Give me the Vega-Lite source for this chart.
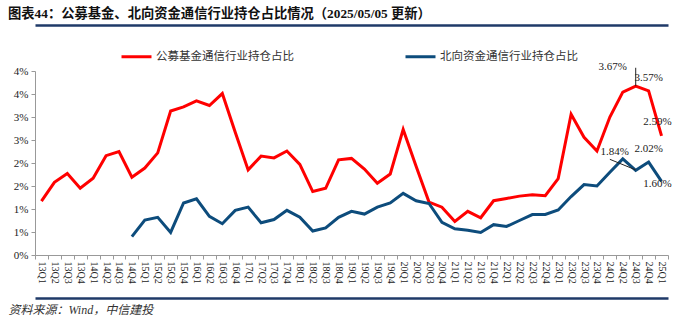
{
  "$schema": "https://vega.github.io/schema/vega-lite/v6.json",
  "width": 633,
  "height": 184,
  "autosize": {"type": "none"},
  "padding": {"left": 35, "top": 71, "right": 32, "bottom": 70},
  "background": "white",
  "config": {"view": {"stroke": null}},
  "title": {
    "text": "图表44：公募基金、北向资金通信行业持仓占比情况（2025/05/05 更新）",
    "anchor": "start",
    "frame": "group",
    "dx": -27,
    "offset": 5,
    "font": "Liberation Serif, Noto Sans CJK SC",
    "fontSize": 13.3,
    "fontWeight": "bold",
    "color": "#111111"
  },
  "datasets": {
    "main": [
      {"q": "13Q1", "s": "公募基金通信行业持仓占比", "v": 1.17},
      {"q": "13Q2", "s": "公募基金通信行业持仓占比", "v": 1.58},
      {"q": "13Q3", "s": "公募基金通信行业持仓占比", "v": 1.77},
      {"q": "13Q4", "s": "公募基金通信行业持仓占比", "v": 1.45},
      {"q": "14Q1", "s": "公募基金通信行业持仓占比", "v": 1.67},
      {"q": "14Q2", "s": "公募基金通信行业持仓占比", "v": 2.16},
      {"q": "14Q3", "s": "公募基金通信行业持仓占比", "v": 2.25},
      {"q": "14Q4", "s": "公募基金通信行业持仓占比", "v": 1.69},
      {"q": "15Q1", "s": "公募基金通信行业持仓占比", "v": 1.89},
      {"q": "15Q2", "s": "公募基金通信行业持仓占比", "v": 2.22},
      {"q": "15Q3", "s": "公募基金通信行业持仓占比", "v": 3.13},
      {"q": "15Q4", "s": "公募基金通信行业持仓占比", "v": 3.22},
      {"q": "16Q1", "s": "公募基金通信行业持仓占比", "v": 3.35},
      {"q": "16Q2", "s": "公募基金通信行业持仓占比", "v": 3.25},
      {"q": "16Q3", "s": "公募基金通信行业持仓占比", "v": 3.51},
      {"q": "16Q4", "s": "公募基金通信行业持仓占比", "v": 2.67},
      {"q": "17Q1", "s": "公募基金通信行业持仓占比", "v": 1.85},
      {"q": "17Q2", "s": "公募基金通信行业持仓占比", "v": 2.15},
      {"q": "17Q3", "s": "公募基金通信行业持仓占比", "v": 2.11},
      {"q": "17Q4", "s": "公募基金通信行业持仓占比", "v": 2.26},
      {"q": "18Q1", "s": "公募基金通信行业持仓占比", "v": 1.97},
      {"q": "18Q2", "s": "公募基金通信行业持仓占比", "v": 1.38},
      {"q": "18Q3", "s": "公募基金通信行业持仓占比", "v": 1.45},
      {"q": "18Q4", "s": "公募基金通信行业持仓占比", "v": 2.07},
      {"q": "19Q1", "s": "公募基金通信行业持仓占比", "v": 2.10},
      {"q": "19Q2", "s": "公募基金通信行业持仓占比", "v": 1.87},
      {"q": "19Q3", "s": "公募基金通信行业持仓占比", "v": 1.56},
      {"q": "19Q4", "s": "公募基金通信行业持仓占比", "v": 1.76},
      {"q": "20Q1", "s": "公募基金通信行业持仓占比", "v": 2.73},
      {"q": "20Q2", "s": "公募基金通信行业持仓占比", "v": 1.93},
      {"q": "20Q3", "s": "公募基金通信行业持仓占比", "v": 1.15},
      {"q": "20Q4", "s": "公募基金通信行业持仓占比", "v": 1.04},
      {"q": "21Q1", "s": "公募基金通信行业持仓占比", "v": 0.73},
      {"q": "21Q2", "s": "公募基金通信行业持仓占比", "v": 0.95},
      {"q": "21Q3", "s": "公募基金通信行业持仓占比", "v": 0.81},
      {"q": "21Q4", "s": "公募基金通信行业持仓占比", "v": 1.18},
      {"q": "22Q1", "s": "公募基金通信行业持仓占比", "v": 1.23},
      {"q": "22Q2", "s": "公募基金通信行业持仓占比", "v": 1.28},
      {"q": "22Q3", "s": "公募基金通信行业持仓占比", "v": 1.31},
      {"q": "22Q4", "s": "公募基金通信行业持仓占比", "v": 1.29},
      {"q": "23Q1", "s": "公募基金通信行业持仓占比", "v": 1.66},
      {"q": "23Q2", "s": "公募基金通信行业持仓占比", "v": 3.06},
      {"q": "23Q3", "s": "公募基金通信行业持仓占比", "v": 2.56},
      {"q": "23Q4", "s": "公募基金通信行业持仓占比", "v": 2.26},
      {"q": "24Q1", "s": "公募基金通信行业持仓占比", "v": 3.00},
      {"q": "24Q2", "s": "公募基金通信行业持仓占比", "v": 3.54},
      {"q": "24Q3", "s": "公募基金通信行业持仓占比", "v": 3.67},
      {"q": "24Q4", "s": "公募基金通信行业持仓占比", "v": 3.57},
      {"q": "25Q1", "s": "公募基金通信行业持仓占比", "v": 2.59},
      {"q": "14Q4", "s": "北向资金通信行业持仓占比", "v": 0.40},
      {"q": "15Q1", "s": "北向资金通信行业持仓占比", "v": 0.76},
      {"q": "15Q2", "s": "北向资金通信行业持仓占比", "v": 0.82},
      {"q": "15Q3", "s": "北向资金通信行业持仓占比", "v": 0.49},
      {"q": "15Q4", "s": "北向资金通信行业持仓占比", "v": 1.13},
      {"q": "16Q1", "s": "北向资金通信行业持仓占比", "v": 1.22},
      {"q": "16Q2", "s": "北向资金通信行业持仓占比", "v": 0.84},
      {"q": "16Q3", "s": "北向资金通信行业持仓占比", "v": 0.68},
      {"q": "16Q4", "s": "北向资金通信行业持仓占比", "v": 0.97},
      {"q": "17Q1", "s": "北向资金通信行业持仓占比", "v": 1.04},
      {"q": "17Q2", "s": "北向资金通信行业持仓占比", "v": 0.70},
      {"q": "17Q3", "s": "北向资金通信行业持仓占比", "v": 0.77},
      {"q": "17Q4", "s": "北向资金通信行业持仓占比", "v": 0.97},
      {"q": "18Q1", "s": "北向资金通信行业持仓占比", "v": 0.82},
      {"q": "18Q2", "s": "北向资金通信行业持仓占比", "v": 0.52},
      {"q": "18Q3", "s": "北向资金通信行业持仓占比", "v": 0.59},
      {"q": "18Q4", "s": "北向资金通信行业持仓占比", "v": 0.82},
      {"q": "19Q1", "s": "北向资金通信行业持仓占比", "v": 0.95},
      {"q": "19Q2", "s": "北向资金通信行业持仓占比", "v": 0.89},
      {"q": "19Q3", "s": "北向资金通信行业持仓占比", "v": 1.04},
      {"q": "19Q4", "s": "北向资金通信行业持仓占比", "v": 1.13},
      {"q": "20Q1", "s": "北向资金通信行业持仓占比", "v": 1.34},
      {"q": "20Q2", "s": "北向资金通信行业持仓占比", "v": 1.18},
      {"q": "20Q3", "s": "北向资金通信行业持仓占比", "v": 1.12},
      {"q": "20Q4", "s": "北向资金通信行业持仓占比", "v": 0.71},
      {"q": "21Q1", "s": "北向资金通信行业持仓占比", "v": 0.57},
      {"q": "21Q2", "s": "北向资金通信行业持仓占比", "v": 0.54},
      {"q": "21Q3", "s": "北向资金通信行业持仓占比", "v": 0.49},
      {"q": "21Q4", "s": "北向资金通信行业持仓占比", "v": 0.66},
      {"q": "22Q1", "s": "北向资金通信行业持仓占比", "v": 0.62},
      {"q": "22Q2", "s": "北向资金通信行业持仓占比", "v": 0.75},
      {"q": "22Q3", "s": "北向资金通信行业持仓占比", "v": 0.88},
      {"q": "22Q4", "s": "北向资金通信行业持仓占比", "v": 0.88},
      {"q": "23Q1", "s": "北向资金通信行业持仓占比", "v": 0.98},
      {"q": "23Q2", "s": "北向资金通信行业持仓占比", "v": 1.27},
      {"q": "23Q3", "s": "北向资金通信行业持仓占比", "v": 1.53},
      {"q": "23Q4", "s": "北向资金通信行业持仓占比", "v": 1.50},
      {"q": "24Q1", "s": "北向资金通信行业持仓占比", "v": 1.80},
      {"q": "24Q2", "s": "北向资金通信行业持仓占比", "v": 2.09},
      {"q": "24Q3", "s": "北向资金通信行业持仓占比", "v": 1.84},
      {"q": "24Q4", "s": "北向资金通信行业持仓占比", "v": 2.02},
      {"q": "25Q1", "s": "北向资金通信行业持仓占比", "v": 1.60}
    ],
    "labels": [
      {"q": "24Q3", "v": 3.67, "t": "3.67%"},
      {"q": "24Q4", "v": 3.57, "t": "3.57%"},
      {"q": "25Q1", "v": 2.59, "t": "2.59%"},
      {"q": "24Q3", "v": 1.84, "t": "1.84%"},
      {"q": "24Q4", "v": 2.02, "t": "2.02%"},
      {"q": "25Q1", "v": 1.60, "t": "1.60%"}
    ],
    "leaders": [
      {"g": "a", "q": "24Q3", "v": 3.67},
      {"g": "a", "q": "24Q3", "v": 4.07},
      {"g": "b", "q": "24Q1", "v": 2.08},
      {"g": "b", "q": "24Q3", "v": 1.85}
    ]
  },
  "layer": [
    {
      "data": {"name": "main"},
      "mark": {"type": "line", "strokeWidth": 3},
      "encoding": {
        "x": {
          "field": "q", "type": "ordinal",
          "scale": {"type": "band", "paddingInner": 0, "paddingOuter": 0,
            "domain": ["13Q1","13Q2","13Q3","13Q4","14Q1","14Q2","14Q3","14Q4","15Q1","15Q2","15Q3","15Q4","16Q1","16Q2","16Q3","16Q4","17Q1","17Q2","17Q3","17Q4","18Q1","18Q2","18Q3","18Q4","19Q1","19Q2","19Q3","19Q4","20Q1","20Q2","20Q3","20Q4","21Q1","21Q2","21Q3","21Q4","22Q1","22Q2","22Q3","22Q4","23Q1","23Q2","23Q3","23Q4","24Q1","24Q2","24Q3","24Q4","25Q1"]},
          "axis": {
            "orient": "bottom", "title": null, "labelAngle": 90, "labelAlign": "left", "labelBaseline": "middle",
            "labelFont": "Liberation Serif", "labelFontSize": 10, "labelColor": "#222222", "labelPadding": 2,
            "tickBand": "extent", "tickSize": 4, "tickColor": "#999999", "domainColor": "#999999", "grid": false
          }
        },
        "y": {
          "field": "v", "type": "quantitative",
          "scale": {"domain": [0, 4], "nice": false},
          "axis": {
            "title": null, "values": [0, 0.5, 1, 1.5, 2, 2.5, 3, 3.5, 4], "tickCount": 9,
            "labelExpr": "round(datum.value) + '%'", "labelOverlap": false, "labelFlush": false,
            "labelFont": "Liberation Serif", "labelFontSize": 11, "labelColor": "#222222",
            "tickSize": 4, "tickColor": "#999999", "domainColor": "#999999", "grid": false, "labelPadding": 3
          }
        },
        "color": {
          "field": "s", "type": "nominal",
          "scale": {"domain": ["公募基金通信行业持仓占比", "北向资金通信行业持仓占比"], "range": ["#FF0000", "#0D4C7C"]},
          "legend": {
            "title": null, "orient": "none", "legendX": 85, "legendY": -31, "direction": "horizontal",
            "symbolType": "stroke", "symbolSize": 900, "symbolStrokeWidth": 3,
            "labelFont": "Noto Sans CJK SC", "labelFontSize": 11.5, "labelColor": "#333333",
            "columnPadding": 105, "labelOffset": 3
          }
        }
      }
    },
    {
      "data": {"name": "leaders"},
      "mark": {"type": "line", "strokeWidth": 1, "color": "#222222"},
      "encoding": {
        "x": {"field": "q", "type": "ordinal", "axis": null},
        "y": {"field": "v", "type": "quantitative"},
        "detail": {"field": "g"}
      }
    },
    {
      "data": {"name": "labels"},
      "transform": [{"filter": {"field": "t", "oneOf": ["3.57%", "2.02%"]}}],
      "mark": {"type": "text", "font": "Liberation Serif", "fontSize": 11, "color": "#222222", "dx": 0, "dy": -13},
      "encoding": {"x": {"field": "q", "type": "ordinal", "axis": null}, "y": {"field": "v", "type": "quantitative"}, "text": {"field": "t"}}
    },
    {
      "data": {"name": "labels"},
      "transform": [{"filter": {"field": "t", "equal": "2.59%"}}],
      "mark": {"type": "text", "font": "Liberation Serif", "fontSize": 11, "color": "#222222", "dx": -4, "dy": -14},
      "encoding": {"x": {"field": "q", "type": "ordinal", "axis": null}, "y": {"field": "v", "type": "quantitative"}, "text": {"field": "t"}}
    },
    {
      "data": {"name": "labels"},
      "transform": [{"filter": {"field": "t", "equal": "1.60%"}}],
      "mark": {"type": "text", "font": "Liberation Serif", "fontSize": 11, "color": "#222222", "dx": -4, "dy": 3},
      "encoding": {"x": {"field": "q", "type": "ordinal", "axis": null}, "y": {"field": "v", "type": "quantitative"}, "text": {"field": "t"}}
    },
    {
      "data": {"name": "labels"},
      "transform": [{"filter": {"field": "t", "equal": "3.67%"}}],
      "mark": {"type": "text", "font": "Liberation Serif", "fontSize": 11, "color": "#222222", "dx": -23, "dy": -19},
      "encoding": {"x": {"field": "q", "type": "ordinal", "axis": null}, "y": {"field": "v", "type": "quantitative"}, "text": {"field": "t"}}
    },
    {
      "data": {"name": "labels"},
      "transform": [{"filter": {"field": "t", "equal": "1.84%"}}],
      "mark": {"type": "text", "font": "Liberation Serif", "fontSize": 11, "color": "#222222", "dx": -21, "dy": -18},
      "encoding": {"x": {"field": "q", "type": "ordinal", "axis": null}, "y": {"field": "v", "type": "quantitative"}, "text": {"field": "t"}}
    },
    {
      "data": {"name": "main"},
      "mark": {"type": "point", "opacity": 0},
      "encoding": {
        "x": {"field": "q", "type": "ordinal",
          "axis": {"orient": "top", "offset": 46, "labels": false, "ticks": false, "title": null, "domainColor": "#1F3A68", "domainWidth": 2.5}}
      }
    },
    {
      "data": {"name": "main"},
      "mark": {"type": "point", "opacity": 0},
      "encoding": {
        "x": {"field": "q", "type": "ordinal",
          "axis": {"orient": "bottom", "offset": 43, "labels": false, "ticks": false, "domainColor": "#1F3A68", "domainWidth": 2.5,
            "title": "资料来源：Wind，中信建投", "titleX": -27, "titleAlign": "left", "titleAnchor": "start", "titlePadding": 6,
            "titleFont": "Liberation Serif, Noto Sans CJK SC", "titleFontSize": 12, "titleFontWeight": "normal", "titleFontStyle": "italic", "titleColor": "#333333"}}
      }
    }
  ],
  "resolve": {"axis": {"x": "independent"}}
}
